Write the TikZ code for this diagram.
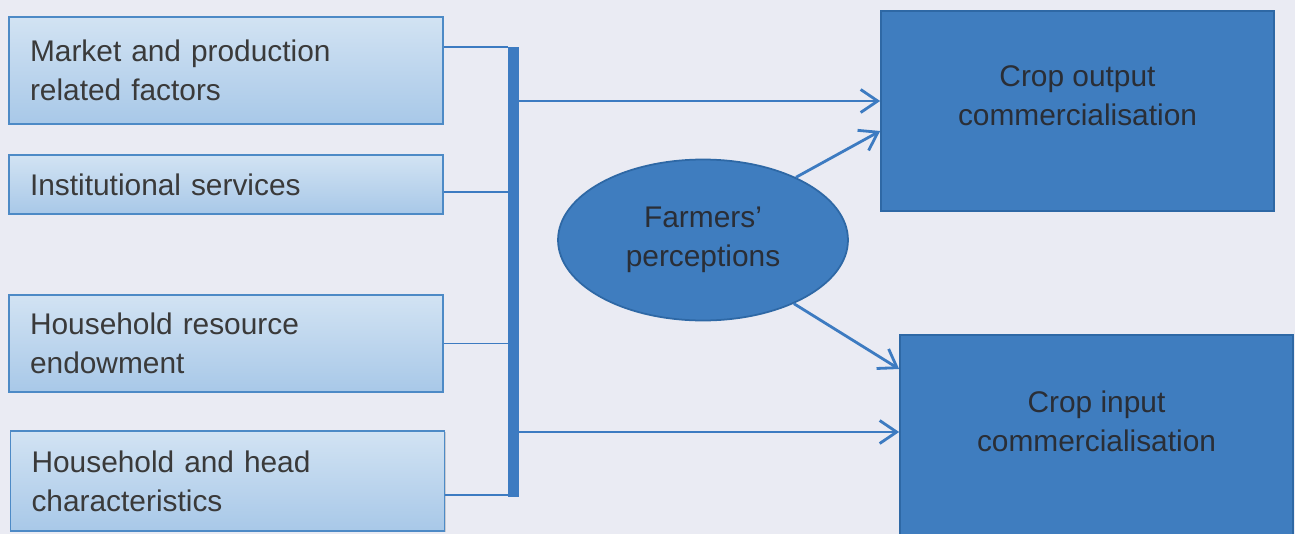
\documentclass[tikz,border=0pt]{standalone}
\usepackage{fontspec}
\setmainfont{Liberation Sans}
\usetikzlibrary{arrows.meta, positioning, calc, shapes.geometric, shadows}
\definecolor{pagebg}{HTML}{EAEBF3}
\definecolor{lighttop}{HTML}{D2E3F3}
\definecolor{lightbot}{HTML}{A8C8E8}
\definecolor{lightedge}{HTML}{4D8AC6}
\definecolor{darkfill}{HTML}{3F7DBF}
\definecolor{darkedge}{HTML}{2E68A5}
\definecolor{linkblue}{HTML}{3D7BC1}
\definecolor{inktext}{HTML}{3A3A3A}
\definecolor{darkink}{HTML}{2A2E36}

\begin{document}
\begin{tikzpicture}[x=0.02cm, y=-0.02cm, >={Straight Barb[length=3.4mm, width=4.6mm]},
  factor/.style={draw=lightedge, line width=0.8pt, top color=lighttop, bottom color=lightbot,
    text width=7.84cm, inner xsep=0.42cm, align=left, text=inktext,
    font=\fontsize{17}{22}\selectfont,
    drop shadow={opacity=0.3, shadow xshift=0.8pt, shadow yshift=-0.8pt}},
  outcome/.style={draw=darkedge, fill=darkfill, line width=1pt, minimum width=7.86cm},
  blocktext/.style={text=darkink, align=center, font=\fontsize{17}{22}\selectfont},
  link/.style={draw=linkblue, line width=1.1pt},
  flow/.style={->, draw=linkblue, line width=1.6pt}]
% 背景
\fill[pagebg] (0,0) rectangle (1295,534);
\useasboundingbox (0,0) rectangle (1295,534);
\clip (0,0) rectangle (1295,534);
% 影响因素
\node[factor, minimum height=2.14cm] (market) at (226,70.5) {Market and production\\related factors};
\node[factor, minimum height=1.18cm] (inst) at (226,184.5) {Institutional services};
\node[factor, minimum height=1.94cm] (resource) at (226,343.5) {Household resource\\endowment};
\node[factor, minimum height=2.0cm] (head) at (227.5,481) {Household and head\\characteristics};
% 竖条
\node[fill=linkblue, minimum width=0.22cm, minimum height=9cm, inner sep=0] (bar) at (513.5,272) {};
% 感知
\node[ellipse, draw=darkedge, fill=darkfill, line width=1pt, minimum width=5.8cm,
  minimum height=3.22cm, blocktext] (percep) at (703,240) {Farmers’\\perceptions};
% 商业化结果
\node[outcome, minimum height=4cm,
  label={[blocktext, yshift=0.3cm]center:Crop output\\commercialisation}] (outbox) at (1077.5,111) {};
\node[outcome, minimum height=4.5cm,
  label={[blocktext, yshift=0.53cm]center:Crop input\\commercialisation}] (inbox) at (1096.5,447.5) {};
% 连接线
\coordinate (m1) at ([yshift=0.47cm]market.east);
\coordinate (m2) at ([yshift=-0.15cm]inst.east);
\coordinate (m3) at (resource.east);
\coordinate (m4) at ([yshift=-0.28cm]head.east);
\foreach \c in {m1,m2,m3,m4} \draw[link] (\c) -- (\c -| bar.west);
% 箭头
\coordinate (o1) at ([yshift=0.2cm]outbox.west);
\coordinate (i1) at ([yshift=0.31cm]inbox.west);
\draw[flow] (o1 -| bar.east) -- (o1);
\draw[flow] (i1 -| bar.east) -- (i1);
\draw[flow] (percep.34) -- ([yshift=-0.4cm]outbox.west);
\draw[flow] (percep.-35) -- ([yshift=1.57cm]inbox.west);
\end{tikzpicture}
\end{document}
